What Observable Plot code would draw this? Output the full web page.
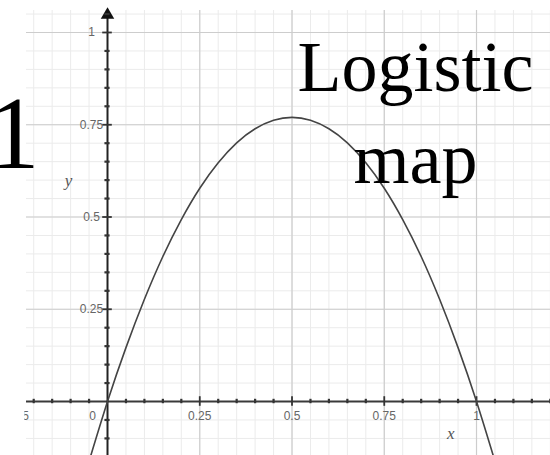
<!DOCTYPE html>
<html>
<head>
<meta charset="utf-8">
<script src="https://cdn.jsdelivr.net/npm/d3@7"></script>
<script src="https://cdn.jsdelivr.net/npm/@observablehq/plot@0.6"></script>
<style>
  html, body { margin: 0; padding: 0; background: #fff; }
  #chart { width: 550px; height: 455px; overflow: hidden; }
</style>
</head>
<body>
<div id="chart"></div>
<script>
// Logistic map f(x) = r·x·(1 − x), sampled points
const curveX = [-0.05, 0, 0.05, 0.1, 0.15, 0.2, 0.25, 0.3, 0.35, 0.4, 0.45, 0.5,
                0.55, 0.6, 0.65, 0.7, 0.75, 0.8, 0.85, 0.9, 0.95, 1, 1.05];
const curveY = [-0.162, 0, 0.146, 0.277, 0.393, 0.493, 0.578, 0.647, 0.701, 0.739, 0.762, 0.770,
                0.762, 0.739, 0.701, 0.647, 0.578, 0.493, 0.393, 0.277, 0.146, 0, -0.162];

// axis tick labels
const xTickValues = [-0.25, 0.25, 0.5, 0.75, 1];
const xTickLabels = ["-0.25", "0.25", "0.5", "0.75", "1"];
const originLabel = "0";
const yTickValues = [0.25, 0.5, 0.75, 1];
const yTickLabels = ["0.25", "0.5", "0.75", "1"];

// titles
const titleTop = "Logistic";
const titleBottom = "map";
const sideLabel = "1";

const curve = curveX.map((x, i) => ({x, y: curveY[i]}));
const xTicks = xTickValues.map((v, i) => ({v, label: xTickLabels[i]}));
const yTicks = yTickValues.map((v, i) => ({v, label: yTickLabels[i]}));

// visible plotting window and grid area
const xDom = [-0.29, 1.2005];
const yDom = [-0.1463, 1.0867];
const gridLeft = -0.2195, gridTop = 1.0596;
const blankRight = -0.224;

const minorX = d3.range(-0.2, 1.2001, 0.05).map(v => +v.toFixed(2));
const minorY = d3.range(-0.1, 1.0501, 0.05).map(v => +v.toFixed(2));
const isMajor = v => Math.abs(v / 0.25 - Math.round(v / 0.25)) < 1e-6;
const majorX = minorX.filter(v => isMajor(v) && v !== 0);
const majorY = minorY.filter(v => isMajor(v) && v !== 0);
const axisTicksX = minorX.filter(v => v !== 0 && !isMajor(v));
const axisTicksY = minorY.filter(v => v !== 0 && !isMajor(v));

const sans = "Liberation Sans, Arial, sans-serif";
const serif = "Liberation Serif, Times New Roman, serif";

const chart = Plot.plot({
  width: 550,
  height: 455,
  margin: 0,
  x: {domain: xDom, axis: null},
  y: {domain: yDom, axis: null},
  style: {background: "#fff"},
  marks: [
    // grid
    Plot.ruleX(minorX, {x: d => d, y1: yDom[0], y2: gridTop, stroke: "#ebebeb", strokeWidth: 1}),
    Plot.ruleY(minorY, {y: d => d, x1: gridLeft, x2: xDom[1], stroke: "#ebebeb", strokeWidth: 1}),
    Plot.ruleX(majorX, {x: d => d, y1: yDom[0], y2: gridTop, stroke: "#cdcdcd", strokeWidth: 1.2}),
    Plot.ruleY(majorY, {y: d => d, x1: gridLeft, x2: xDom[1], stroke: "#cdcdcd", strokeWidth: 1.2}),
    // axes
    Plot.ruleY([0], {x1: gridLeft, x2: xDom[1], stroke: "#3a3a3a", strokeWidth: 2}),
    Plot.ruleX([0], {y1: yDom[0], y2: gridTop - 0.012, stroke: "#222", strokeWidth: 2}),
    Plot.dot([0], {x: d => d, y: gridTop - 0.012, symbol: "triangle", r: 5, fill: "#111", stroke: "none"}),
    // axis tick marks: short dots for minor steps, longer ticks at labelled values
    Plot.ruleX(axisTicksX, {x: d => d, y1: -0.006, y2: 0.006, stroke: "#333", strokeWidth: 2.2}),
    Plot.ruleY(axisTicksY, {y: d => d, x1: -0.007, x2: 0.007, stroke: "#333", strokeWidth: 2.2}),
    Plot.ruleX(majorX, {x: d => d, y1: -0.013, y2: 0.013, stroke: "#333", strokeWidth: 1.8}),
    Plot.ruleY(majorY, {y: d => d, x1: -0.013, x2: 0.013, stroke: "#333", strokeWidth: 1.8}),
    // tick labels
    Plot.text(xTicks, {x: "v", y: 0, text: "label", dy: 15,
      fontSize: 12, fontFamily: sans, fill: "#666"}),
    Plot.text([originLabel], {x: 0, y: 0, text: d => d, dx: -15, dy: 15,
      fontSize: 12, fontFamily: sans, fill: "#666"}),
    Plot.text(yTicks, {x: 0, y: "v", text: "label", dx: -16,
      fontSize: 12, fontFamily: sans, fill: "#666"}),
    // axis names
    Plot.text(["x"], {x: 0.93, y: 0, dy: 32, text: d => d, fontSize: 17, fontFamily: serif,
      fontStyle: "italic", fill: "#555"}),
    Plot.text(["y"], {x: 0, y: 0.6, dx: -39, text: d => d, fontSize: 17, fontFamily: serif,
      fontStyle: "italic", fill: "#555"}),
    // curve
    Plot.line(curve, {x: "x", y: "y", curve: "natural", stroke: "#444", strokeWidth: 1.6}),
    // blank margin on the left
    Plot.rect([0], {x1: xDom[0], x2: blankRight, y1: yDom[0], y2: yDom[1], fill: "#fff"}),
    // titles
    Plot.text([titleTop], {frameAnchor: "top-left", dx: 415, dy: 90, text: d => d,
      lineAnchor: "bottom", textAnchor: "middle", fontSize: 72, fontFamily: serif, fill: "#000"}),
    Plot.text([titleBottom], {frameAnchor: "top-left", dx: 415, dy: 182, text: d => d,
      lineAnchor: "bottom", textAnchor: "middle", fontSize: 72, fontFamily: serif, fill: "#000"}),
    Plot.text([sideLabel], {frameAnchor: "top-left", dx: 39, dy: 167, text: d => d,
      lineAnchor: "bottom", textAnchor: "end", fontSize: 103, fontFamily: serif, fill: "#000"})
  ]
});

document.getElementById("chart").appendChild(chart);
</script>
</body>
</html>
